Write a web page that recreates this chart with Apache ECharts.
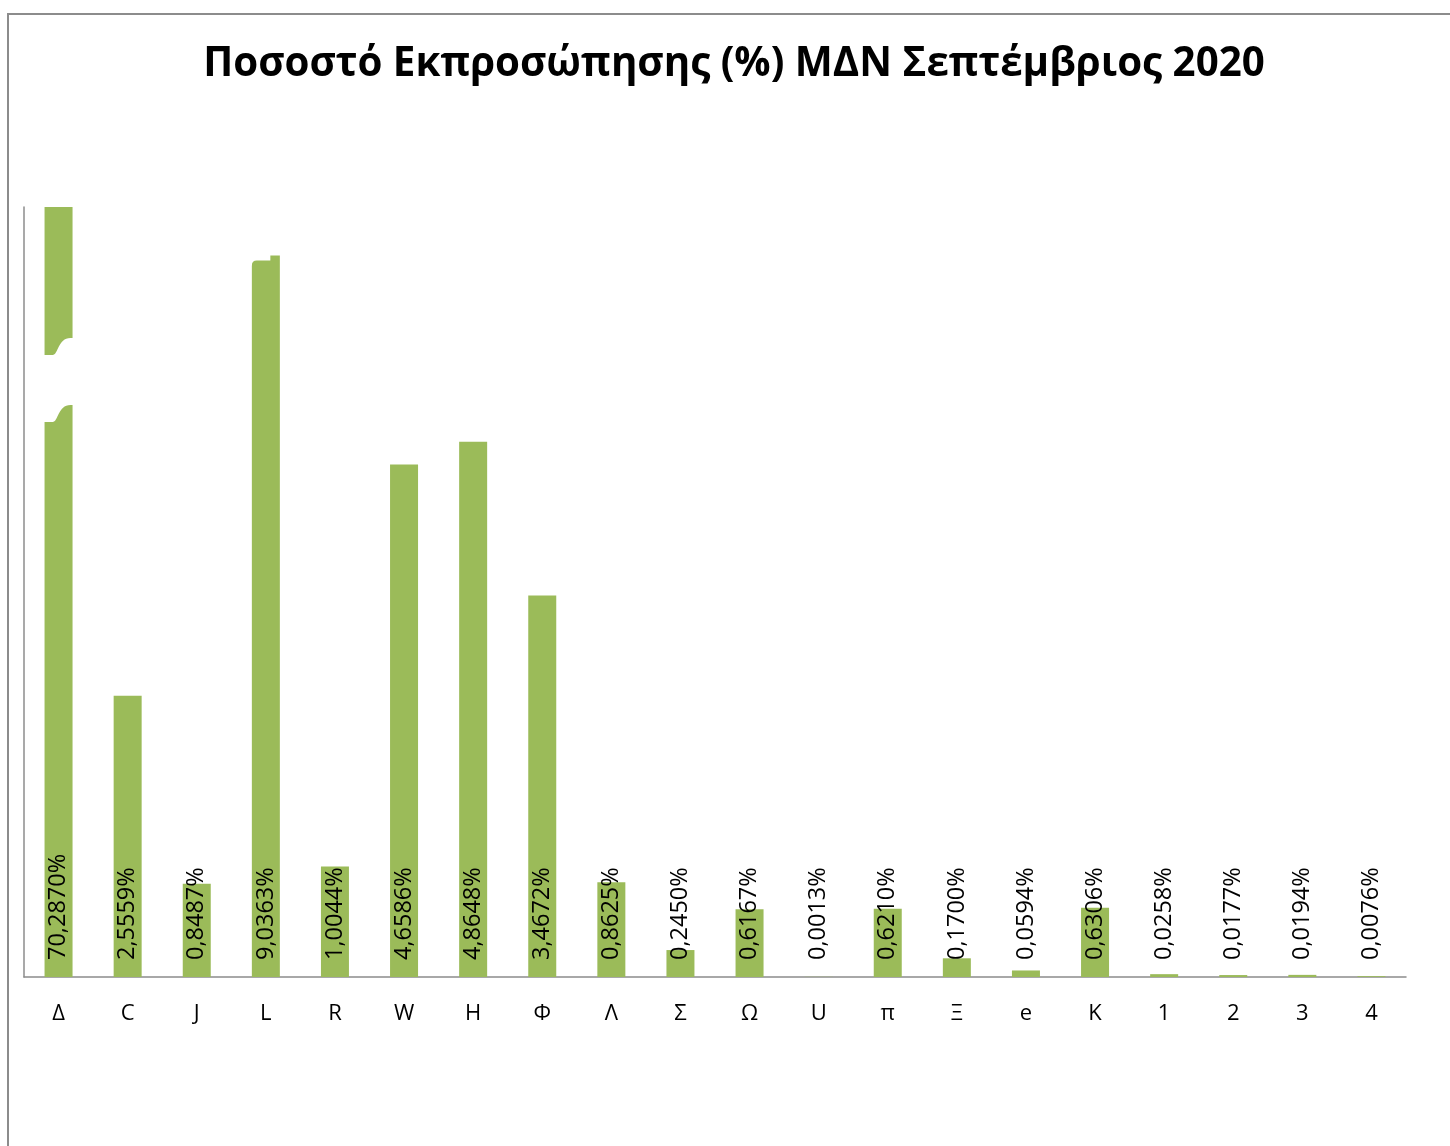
<!DOCTYPE html>
<html>
<head>
<meta charset="utf-8">
<script src="https://cdn.jsdelivr.net/npm/echarts@6/dist/echarts.min.js"></script>
<style>
  html, body { margin: 0; padding: 0; background: #ffffff; }
  #chart { width: 1450px; height: 1146px; }
</style>
</head>
<body>
<div id="chart"></div>
<script>
// ---- data ----
const titleText = 'Ποσοστό Εκπροσώπησης (%) ΜΔΝ Σεπτέμβριος 2020';
const categories = ['Δ', 'C', 'J', 'L', 'R', 'W', 'H', 'Φ', 'Λ', 'Σ', 'Ω', 'U', 'π', 'Ξ', 'e', 'K', '1', '2', '3', '4'];
const values = [70.2870, 2.5559, 0.8487, 9.0363, 1.0044, 4.6586, 4.8648, 3.4672, 0.8625, 0.2450,
                0.6167, 0.0013, 0.6210, 0.1700, 0.0594, 0.6306, 0.0258, 0.0177, 0.0194, 0.0076];
// broken (truncated) bars: category and the height at which they are drawn
const brokenCategories = ['Δ', 'L'];
const brokenShownHeights = [7.0, 6.56];
// wave break drawn across the Δ bar: [category, lower value, upper value]
const waveBreak = ['Δ', 5.2, 5.81];
// small notch at the top of the L bar: [category, value]
const notchBreak = ['L', 6.56];
const axisMax = 7;

const shownHeights = values.map((v, i) => {
  const k = brokenCategories.indexOf(categories[i]);
  return k >= 0 ? brokenShownHeights[k] : v;
});

const fmt = v => v.toFixed(4).replace('.', ',') + '%';

const chart = echarts.init(document.getElementById('chart'), null, { renderer: 'canvas' });

const option = {
  backgroundColor: '#ffffff',
  animation: false,
  title: {
    text: titleText,
    left: 729,
    top: 40,
    textAlign: 'center',
    textStyle: { fontFamily: 'Open Sans', fontWeight: 'bold', fontSize: 40.3, color: '#000000' }
  },
  graphic: [{
    type: 'rect',
    shape: { x: 8, y: 14, width: 1500, height: 1200 },
    style: { fill: 'none', stroke: '#8c8c8c', lineWidth: 2 },
    silent: true,
    z: 100
  }],
  grid: { left: 24, right: 44, top: 207, bottom: 169 },
  xAxis: {
    type: 'category',
    data: categories,
    axisLine: { show: true, lineStyle: { color: '#8c8c8c', width: 1.5 } },
    axisTick: { show: false },
    axisLabel: { color: '#000000', fontFamily: 'Open Sans', fontSize: 22, margin: 26, interval: 0 },
    splitLine: { show: false }
  },
  yAxis: {
    type: 'value',
    min: 0,
    max: axisMax,
    axisLine: { show: true, lineStyle: { color: '#8c8c8c', width: 1.5 } },
    axisTick: { show: false },
    axisLabel: { show: false },
    splitLine: { show: false }
  },
  series: [
    {
      type: 'bar',
      data: shownHeights,
      barWidth: 28,
      itemStyle: { color: '#9BBB59' },
      label: {
        show: true,
        position: 'insideBottom',
        rotate: 90,
        align: 'left',
        verticalAlign: 'middle',
        distance: 15,
        offset: [2, 0],
        color: '#000000',
        fontFamily: 'Open Sans',
        fontSize: 23.5,
        formatter: p => fmt(values[p.dataIndex])
      },
      z: 2
    },
    {
      type: 'custom',
      data: [waveBreak],
      z: 5,
      silent: true,
      renderItem: (params, api) => {
        const ci = categories.indexOf(waveBreak[0]);
        const lo = api.coord([ci, api.value(1)]);
        const hi = api.coord([ci, api.value(2)]);
        const cx = hi[0], t = hi[1], b = lo[1];
        const d = 17;
        const path =
          `M${cx - 31},${t + d} L${cx - 6},${t + d} C${cx},${t + d} ${cx - 1},${t} ${cx + 12},${t} ` +
          `L${cx + 33},${t} L${cx + 33},${b} L${cx + 12},${b} C${cx - 1},${b} ${cx},${b + d} ${cx - 6},${b + d} ` +
          `L${cx - 31},${b + d} Z`;
        return { type: 'path', shape: { pathData: path }, style: { fill: '#ffffff', stroke: null } };
      }
    },
    {
      type: 'custom',
      data: [notchBreak],
      z: 5,
      silent: true,
      renderItem: (params, api) => {
        const ci = categories.indexOf(notchBreak[0]);
        const p = api.coord([ci, api.value(1)]);
        const cx = p[0], t = p[1];
        const path =
          `M${cx - 16},${t - 1} L${cx + 4.5},${t - 1} L${cx + 4.5},${t + 5} L${cx - 9},${t + 5} ` +
          `Q${cx - 14},${t + 5} ${cx - 14},${t + 10} L${cx - 16},${t + 10} Z`;
        return { type: 'path', shape: { pathData: path }, style: { fill: '#ffffff', stroke: null } };
      }
    }
  ]
};

chart.setOption(option);
</script>
</body>
</html>
